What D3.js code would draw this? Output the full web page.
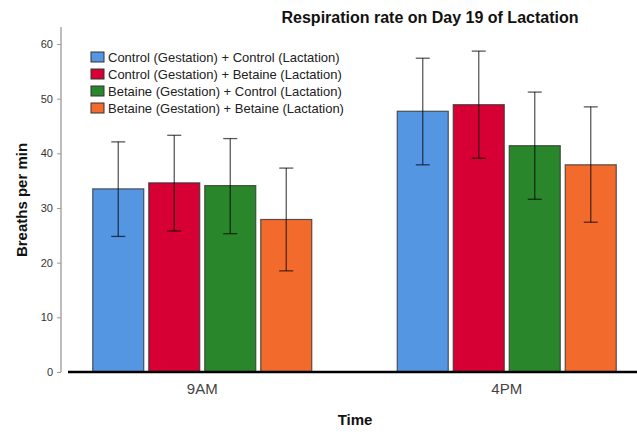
<!doctype html>
<html>
<head>
    <script src="https://d3js.org/d3.v7.min.js"></script>
    <style>
        body { margin: 0; background: #fff; }
        svg text { font-family: "Liberation Sans", Arial, sans-serif; }
    </style>
</head>
<body>
<script>
    // values
    let times = ["9AM", "4PM"];
    let groups = [
        "Control (Gestation) + Control (Lactation)",
        "Control (Gestation) + Betaine (Lactation)",
        "Betaine (Gestation) + Control (Lactation)",
        "Betaine (Gestation) + Betaine (Lactation)"
    ];
    let colors = ["#5596E3", "#D60034", "#2A862A", "#F26A2C"];
    // mean per group, one array per time
    let means9AM = [33.5, 34.6, 34.1, 27.9];
    let means4PM = [47.7, 48.9, 41.4, 37.9];
    // upper and lower ends of the error bars
    let upper9AM = [42.1, 43.3, 42.7, 37.3];
    let lower9AM = [24.8, 25.8, 25.3, 18.5];
    let upper4PM = [57.4, 58.7, 51.2, 48.5];
    let lower4PM = [37.9, 39.1, 31.6, 27.4];
    let yTicks = [0, 10, 20, 30, 40, 50, 60];

    let rows = [];
    times.forEach((t, ti) => {
        let m = ti === 0 ? means9AM : means4PM;
        let hi = ti === 0 ? upper9AM : upper4PM;
        let lo = ti === 0 ? lower9AM : lower4PM;
        groups.forEach((g, gi) => {
            rows.push({time: t, group: g, color: colors[gi], mean: m[gi], hi: hi[gi], lo: lo[gi]});
        });
    });

    let width = 637, height = 432;
    let svg = d3.select("body").append("svg")
        .attr("width", width)
        .attr("height", height);

    let y = d3.scaleLinear().domain([0, 60]).range([372, 44]);
    let x0 = d3.scaleBand().domain(times).range([50, 659]);
    let groupW = 219;
    let x1 = d3.scaleBand().domain(groups).range([0, groupW]).paddingInner(5 / 56);
    let off = (x0.bandwidth() - groupW) / 2;

    // title
    svg.append("text")
        .attr("x", 430).attr("y", 23)
        .attr("text-anchor", "middle")
        .style("font-size", "16px").style("font-weight", "bold")
        .attr("fill", "#111")
        .text("Respiration rate on Day 19 of Lactation");

    // y axis (gray)
    let yAxis = svg.append("g")
        .attr("transform", "translate(61,0)")
        .call(d3.axisLeft(y).tickValues(yTicks).tickSize(4).tickPadding(4));
    yAxis.select(".domain").remove();
    yAxis.selectAll("line").attr("stroke", "#999");
    yAxis.selectAll("text").attr("fill", "#333").style("font-size", "11px");
    svg.append("line")
        .attr("x1", 61).attr("x2", 61)
        .attr("y1", 27).attr("y2", y(0))
        .attr("stroke", "#999").attr("stroke-width", 1.3);

    // bars
    svg.selectAll("rect.bar")
        .data(rows)
        .enter()
        .append("rect")
        .attr("class", "bar")
        .attr("x", d => x0(d.time) + off + x1(d.group))
        .attr("y", d => y(d.mean))
        .attr("width", x1.bandwidth())
        .attr("height", d => y(0) - y(d.mean))
        .attr("fill", d => d.color)
        .attr("stroke", "#333")
        .attr("stroke-opacity", 0.8)
        .attr("stroke-width", 1.2);

    // error bars
    let err = svg.selectAll("g.err")
        .data(rows)
        .enter()
        .append("g")
        .attr("class", "err")
        .attr("transform", d => "translate(" + (x0(d.time) + off + x1(d.group) + x1.bandwidth() / 2) + ",0)")
        .attr("stroke", "#000")
        .attr("stroke-opacity", 0.65)
        .attr("stroke-width", 1.3);
    err.append("line").attr("y1", d => y(d.hi)).attr("y2", d => y(d.lo));
    err.append("line").attr("x1", -7).attr("x2", 7).attr("y1", d => y(d.hi)).attr("y2", d => y(d.hi));
    err.append("line").attr("x1", -7).attr("x2", 7).attr("y1", d => y(d.lo)).attr("y2", d => y(d.lo));

    // baseline
    svg.append("line")
        .attr("x1", 68).attr("x2", width)
        .attr("y1", y(0)).attr("y2", y(0))
        .attr("stroke", "#000").attr("stroke-width", 2.5);

    // category labels
    svg.selectAll("text.cat")
        .data(times)
        .enter()
        .append("text")
        .attr("class", "cat")
        .attr("x", d => x0(d) + x0.bandwidth() / 2)
        .attr("y", 394)
        .attr("text-anchor", "middle")
        .attr("fill", "#444")
        .style("font-size", "15px")
        .text(d => d);

    // axis titles
    svg.append("text")
        .attr("x", 355).attr("y", 425)
        .attr("text-anchor", "middle")
        .style("font-size", "15px").style("font-weight", "bold")
        .attr("fill", "#111")
        .text("Time");
    svg.append("text")
        .attr("transform", "translate(27,200) rotate(-90)")
        .attr("text-anchor", "middle")
        .style("font-size", "15px").style("font-weight", "bold")
        .attr("fill", "#111")
        .text("Breaths per min");

    // legend
    let legend = svg.selectAll("g.leg")
        .data(groups)
        .enter()
        .append("g")
        .attr("class", "leg")
        .attr("transform", (d, i) => "translate(91," + (52 + i * 17) + ")");
    legend.append("rect")
        .attr("width", 13).attr("height", 10)
        .attr("fill", (d, i) => colors[i])
        .attr("stroke", "#333").attr("stroke-width", 1);
    legend.append("text")
        .attr("x", 17).attr("y", 5)
        .attr("dy", "0.35em")
        .attr("fill", "#222")
        .style("font-size", "13px")
        .text(d => d);
</script>
</body>
</html>
